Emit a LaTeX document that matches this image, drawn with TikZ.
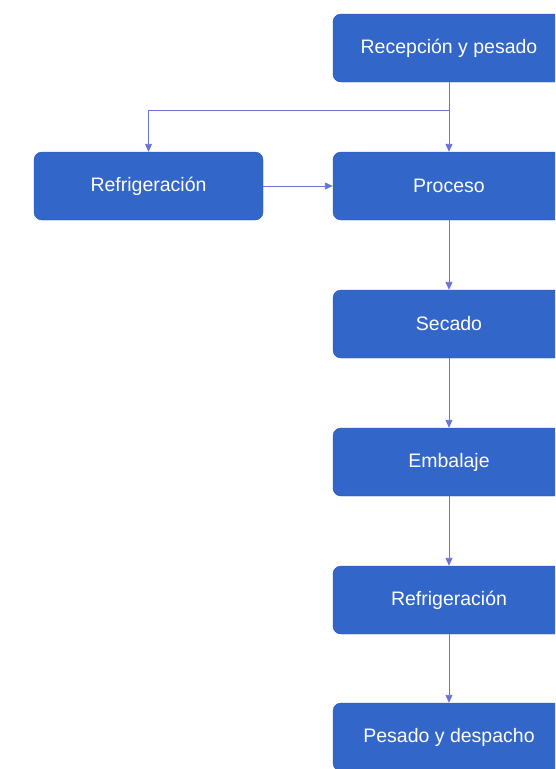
\documentclass[tikz,border=0pt]{standalone}
\usepackage{fontspec}
\setmainfont{Liberation Sans}
\usetikzlibrary{arrows.meta}
\definecolor{boxblue}{RGB}{50,102,200}
\definecolor{boxedge}{RGB}{40,85,175}
\definecolor{lineblue}{RGB}{105,115,215}
\begin{document}
\begin{tikzpicture}
  [x=1pt,y=-1pt,
   every node/.style={draw=boxedge,fill=boxblue,rounded corners=8pt,
     minimum width=232pt,minimum height=68pt,text=white,
     font=\fontsize{19.5}{23}\selectfont,inner sep=0pt},
   link/.style={-{Triangle[length=8pt,width=7pt]},color=lineblue,line width=0.9pt}]
  \useasboundingbox (0,0) rectangle (555,769);
  \clip (0,0) rectangle (555,769);
  \node (recep) at (449,48) {Recepción y pesado};
  \node (proc) at (449,186) {Proceso};
  \node[minimum width=229pt] (refri1) at (148.5,186) {Refrigeración};
  \node (secado) at (449,324) {Secado};
  \node (embal) at (449,462) {Embalaje};
  \node (refri2) at (449,600) {Refrigeración};
  \node (despa) at (449,737) {Pesado y despacho};
  \coordinate (split) at (449,110);
 \path[link]
        (recep) edge (proc)
        (refri1) edge (proc)
        (proc) edge (secado)
        (secado) edge (embal)
        (embal) edge (refri2)
        (refri2) edge (despa);
 \draw[link] (split) -| (refri1);

\end{tikzpicture}
\end{document}
